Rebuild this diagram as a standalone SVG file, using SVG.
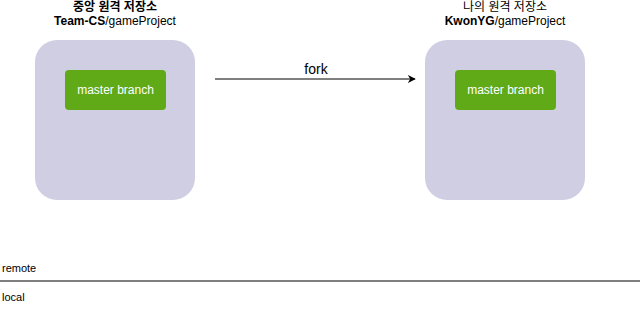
<svg xmlns="http://www.w3.org/2000/svg" width="642" height="311" viewBox="0 0 642 311">
<style>
text{font-family:"Liberation Sans",Arial,"Noto Sans CJK KR",sans-serif;fill:#000}
.repo{fill:#d0cee2;stroke:none}
.br{fill:#60a917;stroke:none}
.brt{fill:#fff;font-size:12px;text-anchor:middle}
.ttl{font-size:12px;text-anchor:middle}
.b{font-weight:bold}
.lbl{font-size:11px}
</style>
<defs>
<marker id="arr" viewBox="0 0 10 10" refX="9" refY="5" markerWidth="8" markerHeight="8" markerUnits="userSpaceOnUse" orient="auto">
<path d="M0,0 L10,5 L0,10 L3,5 Z" fill="#000"/>
</marker>
</defs>
<g id="central">
<rect class="repo" x="35" y="40" width="160" height="160" rx="22"/>
<text class="ttl b" x="115" y="11">중앙 원격 저장소</text>
<text class="ttl" x="115" y="25"><tspan class="b">Team-CS</tspan>/gameProject</text>
</g>
<g id="central-master">
<rect class="br" x="65" y="70" width="101" height="40" rx="4"/>
<text class="brt" x="115.5" y="94">master branch</text>
</g>
<g id="mine">
<rect class="repo" x="425" y="40" width="160" height="160" rx="22"/>
<text class="ttl" x="505" y="11">나의 원격 저장소</text>
<text class="ttl" x="505" y="25"><tspan class="b">KwonYG</tspan>/gameProject</text>
</g>
<g id="mine-master">
<rect class="br" x="455" y="70" width="101" height="40" rx="4"/>
<text class="brt" x="505.5" y="94">master branch</text>
</g>
<g id="connectors">
<line x1="215" y1="79" x2="415" y2="79" stroke="#000" stroke-width="1" marker-end="url(#arr)"/>
<text x="316" y="74" font-size="14" text-anchor="middle">fork</text>
<line x1="0" y1="281" x2="640" y2="281" stroke="#000" stroke-width="1"/>
</g>
<g id="labels">
<text class="lbl" x="2" y="272">remote</text>
<text class="lbl" x="2" y="301">local</text>
</g>
</svg>
